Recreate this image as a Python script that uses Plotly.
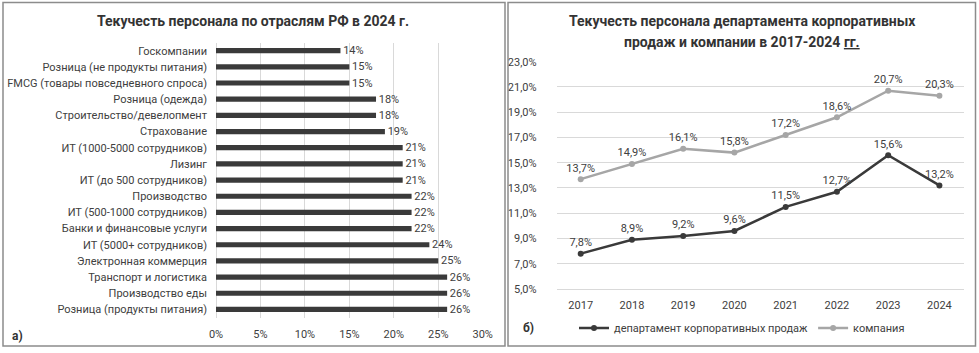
import plotly.graph_objects as go

# ---- data ----
industries = [
    "Госкомпании",
    "Розница (не продукты питания)",
    "FMCG (товары повседневного спроса)",
    "Розница (одежда)",
    "Строительство/девелопмент",
    "Страхование",
    "ИТ (1000-5000 сотрудников)",
    "Лизинг",
    "ИТ (до 500 сотрудников)",
    "Производство",
    "ИТ (500-1000 сотрудников)",
    "Банки и финансовые услуги",
    "ИТ (5000+ сотрудников)",
    "Электронная коммерция",
    "Транспорт и логистика",
    "Производство еды",
    "Розница (продукты питания)",
]
turnover = [14, 15, 15, 18, 18, 19, 21, 21, 21, 22, 22, 22, 24, 25, 26, 26, 26]

years = ["2017", "2018", "2019", "2020", "2021", "2022", "2023", "2024"]
dept_sales = [7.8, 8.9, 9.2, 9.6, 11.5, 12.7, 15.6, 13.2]
company = [13.7, 14.9, 16.1, 15.8, 17.2, 18.6, 20.7, 20.3]

W, H = 979, 353
FONT = "Roboto"
TXT = "#404040"
GRID = "#d9d9d9"


def px(x):
    return x / W


def py(y):
    return 1 - y / H


fig = go.Figure()

fig.add_trace(go.Bar(
    x=turnover, y=industries, orientation="h",
    xaxis="x", yaxis="y",
    marker=dict(color="#3a3a3a", line=dict(width=0)),
    width=0.32,
    texttemplate=" %{x:.0f}%", textposition="outside", constraintext="none",
    textfont=dict(size=11, color=TXT, family=FONT),
    cliponaxis=False, showlegend=False, hoverinfo="skip",
))

fig.add_trace(go.Scatter(
    x=years, y=dept_sales, xaxis="x2", yaxis="y2",
    mode="lines+markers+text", name="департамент корпоративных продаж",
    line=dict(color="#3a3a3a", width=2.5), marker=dict(size=6, color="#3a3a3a"),
    texttemplate="%{y:.1f}%", textposition="top center",
    textfont=dict(size=11, color=TXT, family=FONT), cliponaxis=False,
    hoverinfo="skip",
))
fig.add_trace(go.Scatter(
    x=years, y=company, xaxis="x2", yaxis="y2",
    mode="lines+markers+text", name="компания",
    line=dict(color="#a6a6a6", width=2.5), marker=dict(size=6, color="#a6a6a6"),
    texttemplate="%{y:.1f}%", textposition="top center",
    textfont=dict(size=11, color=TXT, family=FONT), cliponaxis=False,
    hoverinfo="skip",
))

fig.update_layout(
    width=W, height=H,
    margin=dict(l=0, r=0, t=0, b=0),
    paper_bgcolor="white", plot_bgcolor="white",
    font=dict(family=FONT, size=11, color=TXT),
    separators=", ",
    xaxis=dict(
        domain=[px(216), px(482.7)], anchor="y",
        range=[0, 30], dtick=5, tick0=0, ticksuffix="%",
        showgrid=True, gridcolor=GRID, gridwidth=1,
        zeroline=True, zerolinecolor=GRID, zerolinewidth=1,
        showline=False, ticks="", ticklabelstandoff=8,
        tickfont=dict(size=11, color=TXT), automargin=False,
    ),
    yaxis=dict(
        domain=[py(317.5), py(42.6)], anchor="x",
        type="category", autorange="reversed",
        showgrid=False, zeroline=False, showline=False, ticks="",
        ticklabelstandoff=8, tickfont=dict(size=11, color=TXT), automargin=False,
    ),
    xaxis2=dict(
        domain=[px(556.6), px(963.5)], anchor="y2",
        type="category", showgrid=False, zeroline=False,
        showline=True, linecolor=GRID, linewidth=1, ticks="",
        ticklabelstandoff=6, tickfont=dict(size=11, color=TXT), automargin=False,
    ),
    yaxis2=dict(
        domain=[py(289), py(61.7)], anchor="x2",
        range=[5, 23], dtick=2, tick0=5, tickformat=".1f", ticksuffix="%",
        showgrid=True, gridcolor=GRID, gridwidth=1, zeroline=False,
        showline=False, ticks="", ticklabelstandoff=19,
        tickfont=dict(size=11, color=TXT), automargin=False,
    ),
    legend=dict(
        orientation="h", x=px(742), xanchor="center", y=py(328), yanchor="middle",
        font=dict(size=11, color=TXT), bgcolor="rgba(0,0,0,0)",
        itemwidth=30, tracegroupgap=0,
    ),
    shapes=[
        dict(type="rect", xref="paper", yref="paper",
             x0=px(3), x1=px(505), y0=py(346), y1=py(2.5),
             line=dict(color="#8c8c8c", width=1.5)),
        dict(type="rect", xref="paper", yref="paper",
             x0=px(508), x1=px(975.5), y0=py(346), y1=py(2.5),
             line=dict(color="#8c8c8c", width=1.5)),
    ],
    annotations=[
        dict(text="<b>Текучесть персонала по отраслям РФ в 2024 г.</b>",
             xref="paper", yref="paper", x=px(253), y=py(21),
             xanchor="center", yanchor="middle", showarrow=False,
             font=dict(size=14, color="#333333", family=FONT)),
        dict(text="<b>Текучесть персонала департамента корпоративных</b>",
             xref="paper", yref="paper", x=px(742), y=py(21),
             xanchor="center", yanchor="middle", showarrow=False,
             font=dict(size=14, color="#333333", family=FONT)),
        dict(text="<b>продаж и компании в 2017-2024 <u>гг.</u></b>",
             xref="paper", yref="paper", x=px(742), y=py(42),
             xanchor="center", yanchor="middle", showarrow=False,
             font=dict(size=14, color="#333333", family=FONT)),
        dict(text="<b>а)</b>", xref="paper", yref="paper", x=px(10), y=py(336),
             xanchor="left", yanchor="middle", showarrow=False,
             font=dict(size=12, color="#333333", family=FONT)),
        dict(text="<b>б)</b>", xref="paper", yref="paper", x=px(521), y=py(328),
             xanchor="left", yanchor="middle", showarrow=False,
             font=dict(size=12, color="#333333", family=FONT)),
    ],
)

fig.write_html("out.html", config={"displayModeBar": False},
               post_script="document.body.style.margin='0';")
